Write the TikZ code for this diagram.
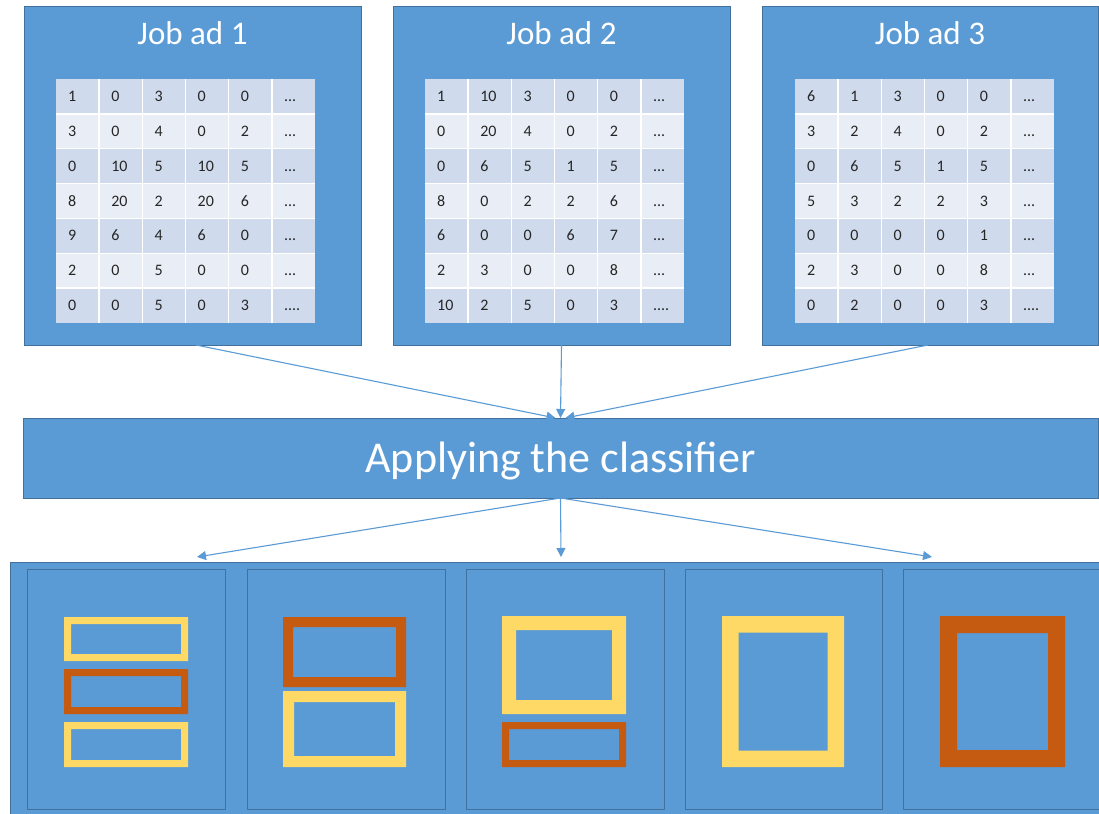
\documentclass[tikz,border=0pt]{standalone}
\usepackage{fontspec}
\setmainfont{Carlito}
\usetikzlibrary{arrows.meta}
\definecolor{boxblue}{HTML}{5B9BD5}
\definecolor{edgeblue}{HTML}{41719C}
\definecolor{rowdark}{HTML}{CFDAEC}
\definecolor{rowlight}{HTML}{E9EEF6}
\definecolor{gold}{HTML}{FFD966}
\definecolor{rust}{HTML}{C55A11}
\definecolor{celltext}{HTML}{262626}
\newcommand\dotsA{...}
\newcommand\dotsB{....}
% frame: x1 y1 x2 y2 thickness colour
\newcommand\myframe[6]{%
  \fill[#6, even odd rule] (#1,#2) rectangle (#3,#4)
    ({#1+#5},{#2+#5}) rectangle ({#3-#5},{#4-#5});}
\begin{document}
\begin{tikzpicture}[x=1pt,y=-1pt,
  bigbox/.style={draw=edgeblue, fill=boxblue, line width=1pt, inner sep=0pt, outer sep=0pt, anchor=north west},
  panel/.style={draw=edgeblue, fill=boxblue, line width=0.9pt},
  titletext/.style={text=white, font=\fontsize{33}{36}\selectfont, anchor=base, inner sep=0pt},
  bigtext/.style={text=white, font=\fontsize{44}{48}\selectfont, anchor=base, inner sep=0pt},
  cellnum/.style={text=celltext, font=\fontsize{16}{17}\selectfont, anchor=base west, inner sep=0pt},
  conn/.style={draw=boxblue, line width=1.1pt, -{Triangle[length=9pt,width=9pt]}}]
\useasboundingbox (0,0) rectangle (1099,813);
\fill[white] (0,0) rectangle (1099,813);

% ---- job ad boxes ----
\node[bigbox, minimum width=337pt, minimum height=338pt] (j1) at (24,7) {};
\node[bigbox, minimum width=337pt, minimum height=338pt] (j2) at (393,7) {};
\node[bigbox, minimum width=336pt, minimum height=338pt] (j3) at (762,7) {};
\node[titletext] (j1t) at (192.5,45) {Job ad 1};
\node[titletext] (j2t) at (561.5,45) {Job ad 2};
\node[titletext] (j3t) at (930,45) {Job ad 3};

% ---- tables ----
\def\cw{43.17}
\def\rh{34.86}
\foreach \tx/\tab in {56/{{1,0,3,0,0,\dotsA},{3,0,4,0,2,\dotsA},{0,10,5,10,5,\dotsA},{8,20,2,20,6,\dotsA},{9,6,4,6,0,\dotsA},{2,0,5,0,0,\dotsA},{0,0,5,0,3,\dotsB}},
                      425/{{1,10,3,0,0,\dotsA},{0,20,4,0,2,\dotsA},{0,6,5,1,5,\dotsA},{8,0,2,2,6,\dotsA},{6,0,0,6,7,\dotsA},{2,3,0,0,8,\dotsA},{10,2,5,0,3,\dotsB}},
                      795/{{6,1,3,0,0,\dotsA},{3,2,4,0,2,\dotsA},{0,6,5,1,5,\dotsA},{5,3,2,2,3,\dotsA},{0,0,0,0,1,\dotsA},{2,3,0,0,8,\dotsA},{0,2,0,0,3,\dotsB}}}{
  \foreach \row [count=\r from 0] in \tab {
    \pgfmathsetmacro\yt{79+\r*\rh}
    \pgfmathsetmacro\yb{79+(\r+1)*\rh}
    \pgfmathtruncatemacro\odd{mod(\r,2)}
    \ifnum\odd=0 \fill[rowdark] (\tx,\yt) rectangle ({\tx+6*\cw},\yb);
    \else \fill[rowlight] (\tx,\yt) rectangle ({\tx+6*\cw},\yb); \fi
    \foreach \v [count=\c from 0] in \row {
      \node[cellnum] (cell-\tx-\r-\c) at ({\tx+\c*\cw+12},{79+(\r+0.5)*\rh+5}) {\v};
    }
  }
  \foreach \c in {1,...,5} {
    \draw[white, line width=1.5pt] ({\tx+\c*\cw},79) -- ({\tx+\c*\cw},323);
  }
  \foreach \r in {1,...,6} {
    \draw[white, line width=1.5pt] (\tx,{79+\r*\rh}) -- ({\tx+6*\cw},{79+\r*\rh});
  }
}

% ---- classifier ----
\node[bigbox, minimum width=1075pt, minimum height=80pt] (cls) at (23,418) {};
\node[bigtext] (clst) at (560.5,472) {Applying the classifier};

% ---- arrows into classifier ----
\draw[conn] ([xshift=3.5pt]j1.south) -- ([xshift=-5pt]cls.north);
\draw[conn] (j2.south) -- (cls.north);
\draw[conn] ([xshift=-2pt]j3.south) -- ([xshift=5pt]cls.north);

% ---- results area ----
\node[bigbox, minimum width=1100pt, minimum height=260pt] (res) at (10,562) {};
\node[panel, anchor=north west, minimum width=198pt, minimum height=240pt, inner sep=0pt] (p1) at (27,569) {};
\node[panel, anchor=north west, minimum width=198pt, minimum height=240pt, inner sep=0pt] (p2) at (247,569) {};
\node[panel, anchor=north west, minimum width=198pt, minimum height=240pt, inner sep=0pt] (p3) at (466,569) {};
\node[panel, anchor=north west, minimum width=197pt, minimum height=240pt, inner sep=0pt] (p4) at (685,569) {};
\node[panel, anchor=north west, minimum width=210pt, minimum height=240pt, inner sep=0pt] (p5) at (903,569) {};

\coordinate (a1) at (197,557);
\coordinate (a2) at (561,557);
\coordinate (a3) at (932,557);
\draw[conn] (cls.south) -- (a1);
\draw[conn] (cls.south) -- (a2);
\draw[conn] (cls.south) -- (a3);

% ---- frames ----
\myframe{64}{617}{188}{661}{7}{gold}
\myframe{64}{669}{188}{714}{7}{rust}
\myframe{64}{722}{188}{767}{7}{gold}

\myframe{283}{617}{406}{687}{10}{rust}
\myframe{283}{691}{406}{767}{11}{gold}

\myframe{502}{616}{626}{714}{14}{gold}
\myframe{502}{722}{626}{767}{7}{rust}

\myframe{722}{616}{844}{767}{16.5}{gold}

\myframe{940}{616}{1065}{767}{17}{rust}
\end{tikzpicture}
\end{document}
